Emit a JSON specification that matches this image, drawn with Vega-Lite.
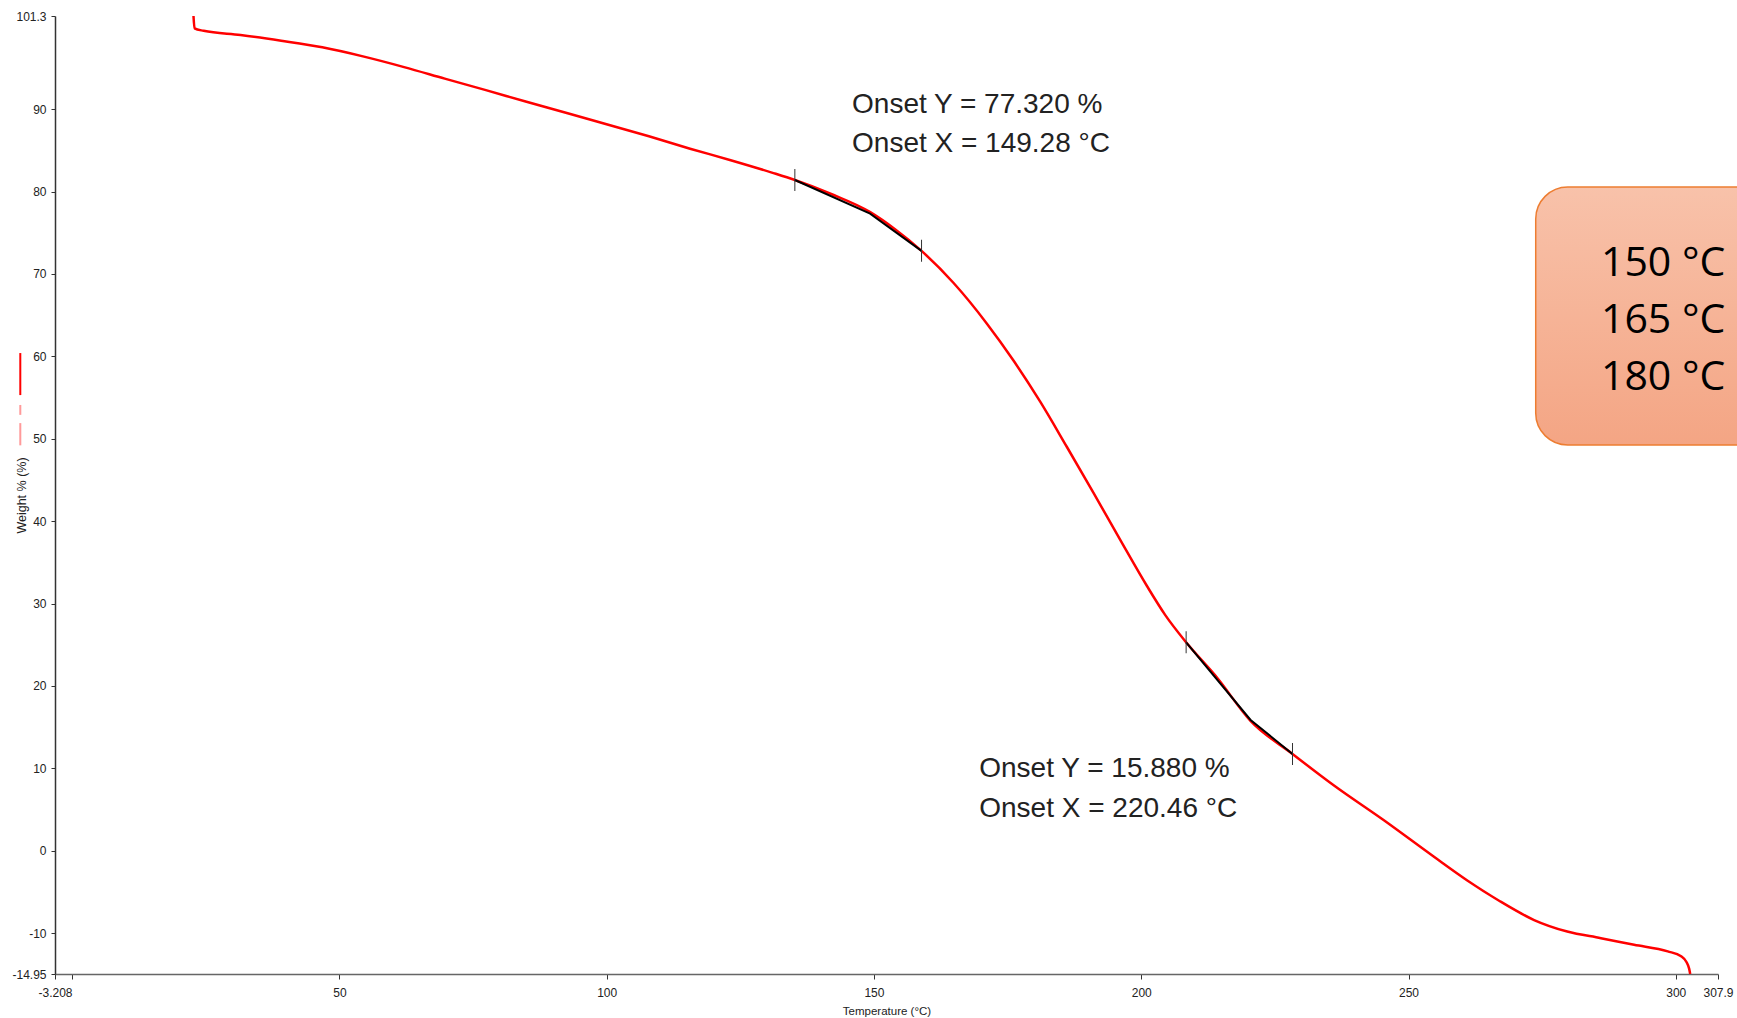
{
  "$schema": "https://vega.github.io/schema/vega-lite/v6.json",
  "width": 1663,
  "height": 958,
  "autosize": {"type": "none"},
  "padding": {"left": 55, "top": 16, "right": 19, "bottom": 44},
  "background": "white",
  "config": {
    "view": {"stroke": null},
    "font": "Liberation Sans, Arial, sans-serif"
  },
  "datasets": {
    "curve": [
      {"x": 22.7, "y": 101.3}, {"x": 22.9, "y": 99.8}, {"x": 24.6, "y": 99.5}, {"x": 31.5, "y": 99.0},
      {"x": 39.1, "y": 98.3}, {"x": 46.8, "y": 97.5}, {"x": 54.4, "y": 96.4}, {"x": 62.1, "y": 95.1},
      {"x": 69.7, "y": 93.7}, {"x": 77.4, "y": 92.3}, {"x": 85.0, "y": 90.9}, {"x": 92.7, "y": 89.5},
      {"x": 100.3, "y": 88.1}, {"x": 107.9, "y": 86.7}, {"x": 115.6, "y": 85.2}, {"x": 123.2, "y": 83.8},
      {"x": 130.9, "y": 82.3}, {"x": 135.2, "y": 81.4}, {"x": 142.0, "y": 79.7}, {"x": 149.3, "y": 77.5},
      {"x": 154.0, "y": 75.4}, {"x": 158.9, "y": 72.8}, {"x": 164.9, "y": 68.9}, {"x": 171.1, "y": 64.0},
      {"x": 176.1, "y": 59.5}, {"x": 181.1, "y": 54.5}, {"x": 186.1, "y": 49.0}, {"x": 191.1, "y": 43.4},
      {"x": 196.1, "y": 37.7}, {"x": 201.1, "y": 32.1}, {"x": 204.5, "y": 28.6}, {"x": 208.4, "y": 25.3},
      {"x": 214.2, "y": 21.0}, {"x": 220.4, "y": 15.8}, {"x": 228.3, "y": 11.75}, {"x": 236.0, "y": 7.95},
      {"x": 245.4, "y": 3.7}, {"x": 254.7, "y": -0.7}, {"x": 261.0, "y": -3.6}, {"x": 266.8, "y": -6.0},
      {"x": 273.5, "y": -8.4}, {"x": 279.7, "y": -9.8}, {"x": 286.0, "y": -10.6}, {"x": 292.2, "y": -11.4},
      {"x": 298.5, "y": -12.2}, {"x": 301.0, "y": -12.8}, {"x": 302.0, "y": -13.5}, {"x": 302.5, "y": -14.3},
      {"x": 302.7, "y": -14.95}
    ],
    "tangents": [
      {"seg": "a", "x": 135.2, "y": 81.4}, {"seg": "a", "x": 149.28, "y": 77.32}, {"seg": "a", "x": 158.9, "y": 72.8},
      {"seg": "b", "x": 208.4, "y": 25.3}, {"seg": "b", "x": 220.46, "y": 15.88}, {"seg": "b", "x": 228.3, "y": 11.75}
    ],
    "marks": [
      {"x": 135.2, "y": 81.4}, {"x": 158.9, "y": 72.8}, {"x": 208.4, "y": 25.3}, {"x": 228.3, "y": 11.75}
    ],
    "onset": [
      {"x": 145.9, "y": 89.5, "t": "Onset Y = 77.320 %"},
      {"x": 145.9, "y": 84.8, "t": "Onset X = 149.28 °C"},
      {"x": 169.7, "y": 8.96, "t": "Onset Y = 15.880 %"},
      {"x": 169.7, "y": 4.1, "t": "Onset X = 220.46 °C"}
    ],
    "box": [{"x": 273.8, "x2": 320, "y": 80.55, "y2": 49.24}],
    "boxtext": [
      {"x": 286.0, "y": 69.75, "t": "150 °C"},
      {"x": 286.0, "y": 62.83, "t": "165 °C"},
      {"x": 286.0, "y": 55.92, "t": "180 °C"}
    ],
    "legend": [
      {"x": -9.7, "y": 60.4, "y2": 55.3, "c": "#FF0000"},
      {"x": -9.7, "y": 54.1, "y2": 52.9, "c": "#FF9A9A"},
      {"x": -9.7, "y": 51.9, "y2": 49.2, "c": "#FF9A9A"}
    ]
  },
  "layer": [
    {
      "data": {"name": "curve"},
      "mark": {"type": "line", "color": "#FF0000", "strokeWidth": 2.5, "interpolate": "monotone"},
      "encoding": {
        "x": {
          "field": "x", "type": "quantitative",
          "scale": {"domain": [-3.208, 307.9], "nice": false, "zero": false},
          "axis": {
            "values": [-3.208, 0, 50, 100, 150, 200, 250, 300, 307.9],
            "labelExpr": "datum.value == 0 ? '' : '' + datum.value",
            "title": "Temperature (°C)",
            "grid": false,
            "domainColor": "#666666",
            "domainWidth": 1.5,
            "tickColor": "#333333",
            "tickSize": 5,
            "labelPadding": 8,
            "labelFontSize": 12,
            "labelColor": "#222222",
            "labelFlush": false,
            "labelOverlap": false,
            "titleFontSize": 11.5,
            "titleColor": "#222222",
            "titleFontWeight": "normal",
            "titleBaseline": "alphabetic",
            "titleY": 40
          }
        },
        "y": {
          "field": "y", "type": "quantitative",
          "scale": {"domain": [-14.95, 101.3], "nice": false, "zero": false},
          "axis": {
            "values": [101.3, 90, 80, 70, 60, 50, 40, 30, 20, 10, 0, -10, -14.95],
            "labelExpr": "'' + datum.value",
            "title": "Weight % (%)",
            "grid": false,
            "domainColor": "#333333",
            "domainWidth": 1.5,
            "tickColor": "#333333",
            "tickSize": 4,
            "labelPadding": 5,
            "labelFontSize": 12,
            "labelColor": "#222222",
            "labelFlush": false,
            "labelOverlap": false,
            "titleFontSize": 12.5,
            "titleColor": "#222222",
            "titleFontWeight": "normal",
            "titleBaseline": "alphabetic",
            "titleX": -30
          }
        }
      }
    },
    {
      "data": {"name": "box"},
      "mark": {
        "type": "rect",
        "cornerRadius": 32,
        "stroke": "#ED7D31",
        "strokeWidth": 1.5,
        "fill": {
          "gradient": "linear",
          "x1": 0, "y1": 0, "x2": 0, "y2": 1,
          "stops": [
            {"offset": 0, "color": "#F8C2AA"},
            {"offset": 1, "color": "#F4A584"}
          ]
        }
      },
      "encoding": {
        "x": {"field": "x", "type": "quantitative"},
        "x2": {"field": "x2"},
        "y": {"field": "y", "type": "quantitative"},
        "y2": {"field": "y2"}
      }
    },
    {
      "data": {"name": "tangents"},
      "mark": {"type": "line", "color": "#000000", "strokeWidth": 2},
      "encoding": {
        "x": {"field": "x", "type": "quantitative"},
        "y": {"field": "y", "type": "quantitative"},
        "detail": {"field": "seg"}
      }
    },
    {
      "data": {"name": "marks"},
      "mark": {"type": "tick", "orient": "vertical", "size": 22, "thickness": 1, "color": "#333333", "opacity": 1},
      "encoding": {
        "x": {"field": "x", "type": "quantitative"},
        "y": {"field": "y", "type": "quantitative"}
      }
    },
    {
      "data": {"name": "onset"},
      "mark": {"type": "text", "align": "left", "baseline": "alphabetic", "fontSize": 28, "color": "#222222", "font": "Liberation Sans, Arial, sans-serif"},
      "encoding": {
        "x": {"field": "x", "type": "quantitative"},
        "y": {"field": "y", "type": "quantitative"},
        "text": {"field": "t"}
      }
    },
    {
      "data": {"name": "boxtext"},
      "mark": {"type": "text", "align": "left", "baseline": "alphabetic", "fontSize": 41, "color": "#000000", "font": "Open Sans"},
      "encoding": {
        "x": {"field": "x", "type": "quantitative"},
        "y": {"field": "y", "type": "quantitative"},
        "text": {"field": "t"}
      }
    },
    {
      "data": {"name": "legend"},
      "mark": {"type": "rule", "strokeWidth": 2},
      "encoding": {
        "x": {"field": "x", "type": "quantitative"},
        "y": {"field": "y", "type": "quantitative"},
        "y2": {"field": "y2"},
        "color": {"field": "c", "type": "nominal", "scale": null, "legend": null}
      }
    }
  ]
}
